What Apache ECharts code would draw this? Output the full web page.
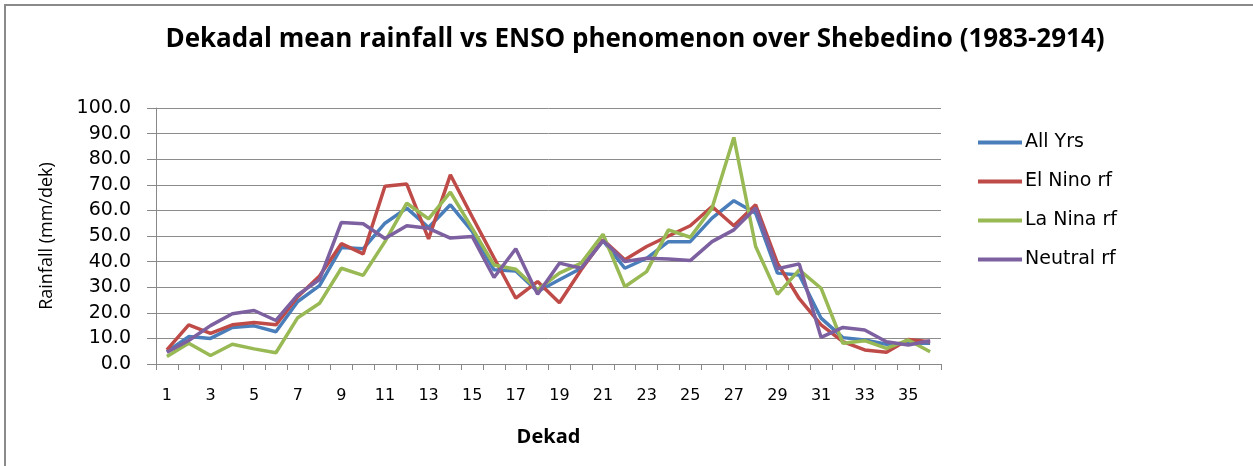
<!DOCTYPE html>
<html>
<head>
<meta charset="utf-8">
<script src="https://cdn.jsdelivr.net/npm/echarts@6/dist/echarts.min.js"></script>
<style>
  html, body { margin: 0; padding: 0; background: #fff; }
  #chart { width: 1253px; height: 466px; }
</style>
</head>
<body>
<div id="chart"></div>
<script>
// dekads 1..36
const dekads = [];
for (let i = 1; i <= 36; i++) dekads.push(String(i));

const allYrs = [4.8, 10.7, 10.0, 14.3, 14.9, 12.6, 24.4, 30.6, 45.5, 45.0,
  55.0, 60.9, 53.3, 62.2, 51.8, 36.8, 36.3, 28.3, 32.9, 37.4,
  48.2, 37.4, 41.3, 47.8, 47.8, 57.0, 63.8, 58.9, 35.5, 34.8,
  17.9, 10.3, 9.4, 7.7, 8.1, 8.1];
const elNino = [5.5, 15.3, 12.0, 15.3, 16.2, 15.3, 26.3, 34.4, 47.0, 43.0,
  69.4, 70.3, 48.9, 73.9, 57.5, 41.5, 25.7, 32.2, 23.9, 36.8,
  48.5, 40.7, 45.9, 50.0, 54.0, 61.5, 54.0, 62.2, 39.4, 25.5,
  15.3, 8.7, 5.5, 4.6, 9.6, 8.7];
const laNina = [2.9, 8.1, 3.3, 7.7, 5.9, 4.4, 18.1, 23.7, 37.4, 34.6,
  47.8, 62.8, 56.7, 67.1, 53.0, 38.7, 37.0, 29.0, 35.5, 39.4,
  50.7, 30.2, 36.1, 52.4, 49.5, 60.9, 88.5, 45.9, 27.2, 36.8,
  29.6, 8.1, 9.1, 6.1, 9.4, 4.8];
const neutral = [4.6, 9.2, 15.0, 19.6, 20.9, 17.0, 27.0, 33.0, 55.3, 54.8,
  49.0, 54.0, 53.0, 49.2, 49.8, 33.8, 45.0, 27.2, 39.4, 37.4,
  48.2, 40.0, 41.3, 41.0, 40.4, 47.8, 52.4, 60.9, 37.2, 39.1,
  10.4, 14.3, 13.3, 8.7, 7.4, 9.1];

const yTicks = { min: 0, max: 100, interval: 10 };

const seriesNames = ["All Yrs", "El Nino rf", "La Nina rf", "Neutral rf"];
const seriesColors = ["#4a7ebb", "#be4b48", "#98b954", "#7d60a0"];
const seriesData = [allYrs, elNino, laNina, neutral];

const chart = echarts.init(document.getElementById("chart"));

const option = {
  backgroundColor: "#fff",
  animation: false,
  title: {
    text: "Dekadal mean rainfall vs ENSO phenomenon over Shebedino (1983-2914)",
    left: 630,
    top: 22,
    textAlign: "center",
    textStyle: {
      fontFamily: "Open Sans",
      fontWeight: "bold",
      fontSize: 26,
      color: "#000"
    }
  },
  legend: {
    orient: "vertical",
    left: 973,
    top: 128,
    itemWidth: 44,
    itemHeight: 4,
    itemGap: 20,
    icon: "rect",
    textStyle: {
      fontFamily: "DejaVu Sans",
      fontSize: 19,
      color: "#000",
      padding: [0, 0, 0, -2]
    },
    data: seriesNames
  },
  grid: {
    left: 156,
    top: 108,
    width: 785,
    bottom: 102
  },
  xAxis: {
    type: "category",
    boundaryGap: true,
    data: dekads,
    name: "Dekad",
    nameLocation: "middle",
    nameGap: 63,
    nameTextStyle: {
      fontFamily: "Open Sans",
      fontWeight: "bold",
      fontSize: 20,
      color: "#000"
    },
    axisLine: { lineStyle: { color: "#888", width: 1 } },
    axisTick: { show: true, interval: 0, length: 6, lineStyle: { color: "#888" } },
    axisLabel: {
      interval: 1,
      margin: 24,
      fontFamily: "DejaVu Sans",
      fontSize: 16,
      color: "#000"
    },
    splitLine: { show: false }
  },
  yAxis: {
    type: "value",
    min: yTicks.min,
    max: yTicks.max,
    interval: yTicks.interval,
    name: "Rainfall (mm/dek)",
    nameLocation: "middle",
    nameGap: 100,
    nameTextStyle: {
      fontFamily: "Open Sans",
      fontSize: 18,
      color: "#000"
    },
    axisLine: { show: true, lineStyle: { color: "#888", width: 1 } },
    axisTick: { show: true, length: 9, lineStyle: { color: "#888" } },
    axisLabel: {
      margin: 25,
      fontFamily: "DejaVu Sans",
      fontSize: 19,
      color: "#000",
      formatter: v => v.toFixed(1)
    },
    splitLine: { show: true, lineStyle: { color: "#8c8c8c", width: 1 } }
  },
  graphic: [
    {
      type: "polyline",
      shape: { points: [[5, 466], [5, 5], [1253, 5]] },
      style: { stroke: "#8a8a8a", lineWidth: 2, fill: null }
    }
  ],
  series: seriesNames.map((name, i) => ({
    name: name,
    type: "line",
    data: seriesData[i],
    symbol: "none",
    lineStyle: { color: seriesColors[i], width: 3.5 },
    itemStyle: { color: seriesColors[i] }
  }))
};

chart.setOption(option);
</script>
</body>
</html>
